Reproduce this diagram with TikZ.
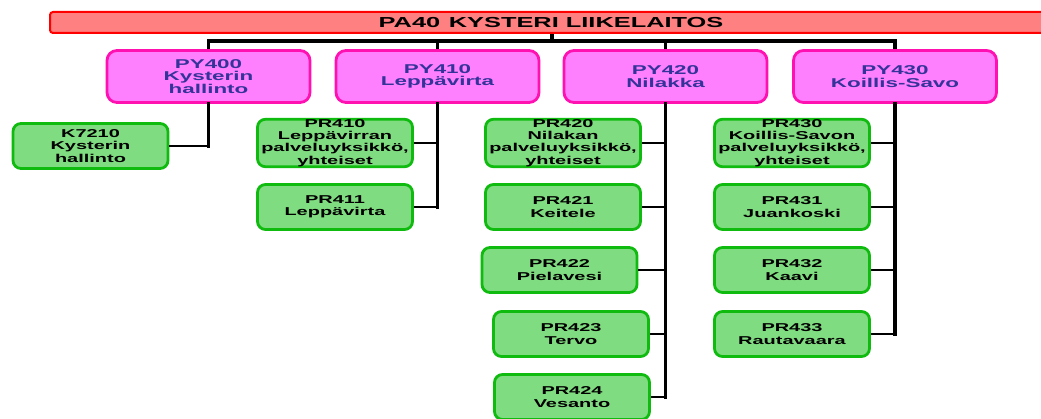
\documentclass[tikz,border=0pt]{standalone}
\usepackage{fontspec}
\setmainfont[FakeStretch=1.75]{Liberation Sans}
\definecolor{barfill}{HTML}{FF8080}
\definecolor{barline}{HTML}{FF0000}
\definecolor{magfill}{HTML}{FF80FF}
\definecolor{magline}{HTML}{FF10B0}
\definecolor{magtext}{HTML}{333399}
\definecolor{grnfill}{HTML}{80DC80}
\definecolor{grnline}{HTML}{10BB10}
\tikzset{
  topbar/.style={draw=barline, fill=barfill, line width=2pt, rounded corners=3pt,
    minimum width=1002pt, minimum height=21pt, inner sep=0pt,
    font=\fontsize{14.5}{15}\selectfont\bfseries},
  unitbox/.style={draw=magline, fill=magfill, line width=2.8pt, rounded corners=10pt,
    minimum width=203pt, minimum height=52pt, inner sep=0pt, align=center,
    text=magtext, font=\fontsize{12.8}{12.7}\selectfont\bfseries},
  leafbox/.style={draw=grnline, fill=grnfill, line width=2.8pt, rounded corners=8pt,
    minimum width=155pt, minimum height=45pt, inner sep=0pt, align=center,
    font=\fontsize{11.4}{12.4}\selectfont\bfseries},
  link/.style={draw=black, line width=3.2pt},
  trunk/.style={draw=black, line width=3.2pt, line cap=rect},
  sidelink/.style={draw=black, line width=2.4pt}
}
\begin{document}
\begin{tikzpicture}[x=1pt, y=-1pt]
\useasboundingbox (0,0) rectangle (1041,419);
\clip (0,0) rectangle (1041,419);
% top bar
\node[topbar] (top) at (551,22.5) {PA40\hspace{0.6em}KYSTERI LIIKELAITOS};
\coordinate (bus) at (552,41);
% units
\node[unitbox] (py400) at (208.5,76.5) {PY400\\Kysterin\\hallinto};
\node[unitbox] (py410) at (437.5,76.5) {PY410\\Leppävirta};
\node[unitbox] (py420) at (665.5,76.5) {PY420\\Nilakka};
\node[unitbox] (py430) at (895,76.5) {PY430\\Koillis-Savo};
% leaves
\node[leafbox] (k7210) at (90.5,146) {K7210\\Kysterin\\hallinto};
\node[leafbox] (pr410) at (335,143) {PR410\\Leppävirran\\palveluyksikkö,\\yhteiset};
\node[leafbox] (pr411) at (335,207) {PR411\\Leppävirta};
\node[leafbox] (pr420) at (563,143) {PR420\\Nilakan\\palveluyksikkö,\\yhteiset};
\node[leafbox] (pr421) at (563,207) {PR421\\Keitele};
\node[leafbox] (pr422) at (559.5,270) {PR422\\Pielavesi};
\node[leafbox] (pr423) at (571,334) {PR423\\Tervo};
\node[leafbox] (pr424) at (572,397) {PR424\\Vesanto};
\node[leafbox] (pr430) at (792,143) {PR430\\Koillis-Savon\\palveluyksikkö,\\yhteiset};
\node[leafbox] (pr431) at (792,207) {PR431\\Juankoski};
\node[leafbox] (pr432) at (792,270) {PR432\\Kaavi};
\node[leafbox] (pr433) at (792,334) {PR433\\Rautavaara};
% top connectors
\draw[link] (bus|-top.south) -- (bus);
\draw[link] (py400.north) |- (bus);
\draw[link] (py410.north) |- (bus);
\draw[link] (py420.north) |- (bus);
\draw[link] (py430.north) |- (bus);
% column trunks
\draw[trunk] (py400.south) -- (py400.south|-k7210.east);
\draw[trunk] (py410.south) -- (py410.south|-pr411.east);
\draw[trunk] (py420.south) -- (py420.south|-pr424.east);
\draw[trunk] (py430.south) -- (py430.south|-pr433.east);
% branches
\draw[sidelink] (k7210.east) -- (k7210.east-|py400.south);
\draw[sidelink] (pr410.east) -- (pr410.east-|py410.south);
\draw[sidelink] (pr411.east) -- (pr411.east-|py410.south);
\draw[sidelink] (pr420.east) -- (pr420.east-|py420.south);
\draw[sidelink] (pr421.east) -- (pr421.east-|py420.south);
\draw[sidelink] (pr422.east) -- (pr422.east-|py420.south);
\draw[sidelink] (pr423.east) -- (pr423.east-|py420.south);
\draw[sidelink] (pr424.east) -- (pr424.east-|py420.south);
\draw[sidelink] (pr430.east) -- (pr430.east-|py430.south);
\draw[sidelink] (pr431.east) -- (pr431.east-|py430.south);
\draw[sidelink] (pr432.east) -- (pr432.east-|py430.south);
\draw[sidelink] (pr433.east) -- (pr433.east-|py430.south);
\end{tikzpicture}
\end{document}
